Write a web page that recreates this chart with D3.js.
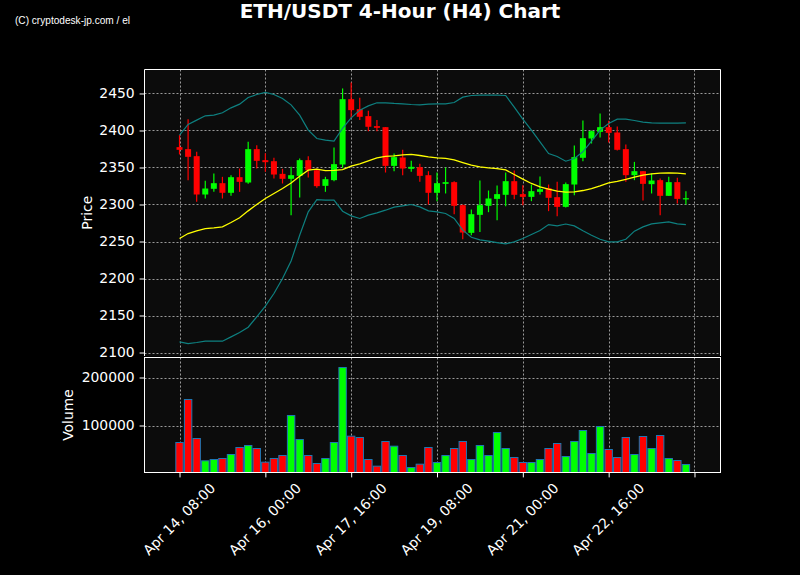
<!DOCTYPE html>
<html><head><meta charset="utf-8">
<script src="https://cdn.jsdelivr.net/npm/d3@7"></script>
<style>body{margin:0;background:#000;} svg{display:block}</style>
</head><body><svg id="c" width="800" height="575"></svg>
<script>
// ---- data (4-hour candles, Apr 14 08:00 onward) ----
const opens = [2377.5,2374.8,2365.3,2313.5,2321.2,2328.8,2315.8,2336.9,2329.7,2374.8,
2359.9,2358.5,2341.4,2334.7,2338.7,2359.9,2346.4,2325.2,2332.9,2354.0,
2442.3,2428.8,2419.4,2405.9,2404.5,2352.2,2363.5,2348.2,2350.4,2339.6,
2315.8,2327.9,2330.2,2299.1,2261.7,2286.0,2298.2,2307.6,2313.1,2331.5,
2314.0,2310.3,2317.1,2322.0,2309.9,2296.8,2327.0,2363.1,2389.2,2398.2,
2404.5,2397.3,2374.8,2339.6,2345.0,2327.5,2332.9,2311.7,2330.2,2307.6];
const highs = [2393.7,2415.3,2371.2,2332.0,2341.9,2337.4,2339.6,2348.6,2384.7,2380.2,
2369.4,2363.1,2348.2,2350.9,2362.2,2365.3,2348.6,2337.4,2377.0,2456.8,
2464.9,2444.1,2426.6,2414.0,2404.5,2368.9,2373.9,2359.0,2355.0,2345.0,
2343.2,2350.0,2331.5,2300.0,2293.2,2332.4,2318.9,2325.7,2343.2,2345.9,
2326.1,2327.0,2337.8,2327.0,2330.6,2329.7,2379.7,2413.5,2400.0,2423.0,
2413.1,2405.4,2381.1,2357.6,2345.0,2341.9,2335.1,2337.4,2336.0,2318.0];
const lows = [2367.6,2332.9,2303.6,2308.1,2317.1,2308.1,2311.7,2317.1,2327.9,2348.6,
2344.1,2335.1,2328.4,2285.6,2309.4,2336.5,2322.5,2317.1,2331.5,2349.5,
2416.2,2414.0,2399.1,2399.1,2343.2,2345.0,2339.6,2344.1,2330.6,2300.0,
2304.5,2314.9,2286.9,2253.1,2258.5,2263.0,2289.6,2278.8,2297.7,2307.2,
2299.1,2304.5,2313.5,2291.0,2284.2,2296.0,2312.6,2358.5,2382.4,2390.5,
2383.8,2373.0,2330.6,2332.9,2305.4,2314.9,2285.6,2311.7,2301.3,2300.0];
const closes = [2373.9,2364.4,2313.5,2321.6,2328.8,2315.8,2336.9,2330.6,2374.8,2359.0,
2357.2,2340.5,2334.7,2339.6,2359.9,2346.4,2324.8,2334.2,2354.5,2442.3,
2427.5,2418.5,2405.0,2403.6,2352.2,2364.0,2348.6,2350.9,2338.7,2315.8,
2328.8,2330.2,2298.2,2262.1,2286.9,2299.1,2308.1,2314.0,2331.5,2313.1,
2310.3,2318.0,2320.7,2309.0,2296.8,2327.5,2364.0,2389.6,2399.1,2404.5,
2396.8,2373.9,2339.6,2345.0,2327.9,2332.4,2311.7,2330.2,2307.6,2308.5];
const volumes = [64600,154200,72900,26400,29200,31300,39600,54200,58300,52100,
23600,31300,37500,120800,70800,37500,20800,31300,64600,220800,
77800,75000,29200,15300,66700,56900,37500,12500,19400,54200,
22900,37500,52100,66700,29200,58300,37500,85400,52100,33300,
22900,22900,29200,52100,62500,35400,66700,89600,41700,97900,
50000,33300,75000,39600,77100,52100,79200,31300,27100,18800];
const bbMid = [2254.0,2260.8,2264.4,2267.5,2268.4,2269.8,2275.7,2282.0,2291.4,2300.0,
2308.1,2314.9,2321.6,2329.0,2338.3,2346.4,2347.7,2345.9,2346.0,2347.0,
2351.8,2355.0,2359.0,2363.1,2364.9,2365.8,2367.1,2367.6,2366.2,2364.4,
2363.1,2362.2,2360.4,2356.7,2353.1,2350.9,2349.5,2348.6,2346.8,2340.5,
2334.2,2328.4,2323.9,2320.7,2318.0,2316.7,2317.1,2318.9,2321.6,2325.2,
2329.3,2331.1,2333.8,2336.9,2339.6,2341.4,2342.3,2342.8,2342.3,2341.4];
const bbUpper = [2393.7,2408.1,2414.0,2419.8,2420.7,2423.9,2430.6,2435.6,2444.6,2448.6,
2451.4,2448.6,2443.2,2434.6,2420.7,2400.5,2389.2,2386.9,2385.6,2403.0,
2417.1,2427.5,2433.3,2437.4,2437.4,2436.5,2436.0,2435.1,2434.7,2435.6,
2436.0,2436.0,2437.8,2445.0,2447.3,2447.7,2447.7,2447.7,2447.3,2431.5,
2415.3,2400.5,2384.7,2368.9,2364.9,2358.5,2362.2,2371.2,2385.6,2400.5,
2409.5,2415.3,2415.3,2413.5,2411.3,2410.4,2409.9,2409.9,2409.9,2410.4];
const bbLower = [2114.4,2112.1,2113.5,2115.3,2115.3,2115.3,2121.1,2127.0,2134.2,2148.2,
2162.6,2179.7,2200.0,2223.6,2258.5,2290.1,2306.7,2305.8,2305.8,2291.0,
2284.7,2281.1,2285.6,2288.7,2292.3,2296.4,2298.2,2300.0,2296.8,2291.4,
2290.1,2287.8,2281.1,2265.3,2255.8,2252.2,2250.4,2248.6,2246.8,2249.5,
2254.0,2259.4,2264.8,2272.9,2271.1,2273.6,2271.1,2264.4,2258.5,2253.1,
2249.5,2249.5,2253.1,2264.0,2269.8,2273.9,2275.2,2276.6,2273.9,2272.9];
const tickIdx = [0,10,20,30,40,50,60];
const tickLabels = ["Apr 14, 08:00","Apr 16, 00:00","Apr 17, 16:00","Apr 19, 08:00","Apr 21, 00:00","Apr 22, 16:00",""];
const priceTicks = [2100,2150,2200,2250,2300,2350,2400,2450];
const volTicks = [100000,200000];
const titleText = "ETH/USDT 4-Hour (H4) Chart";
const watermark = "(C) cryptodesk-jp.com / el";

// ---- layout ----
const W=800,H=575;
const L=144.5,R=720.5,pTop=69.5,pBot=356,vTop=357.5,vBot=472.5;
const UP="#00ff00",DN="#ff0000";
const FONT="DejaVu Sans, sans-serif";
const svg=d3.select("#c");
svg.append("rect").attr("width",W).attr("height",H).attr("fill","#000");

const idx=d3.range(opens.length);
const x=d3.scaleLinear().domain([-4.08,63.03]).range([L,R]);
const y=d3.scaleLinear().domain([2095.3,2482.4]).range([pBot,pTop]);
const yv=d3.scaleLinear().domain([2100,241667]).range([vBot,vTop]);

// panels
svg.append("rect").attr("x",L).attr("y",pTop).attr("width",R-L).attr("height",pBot-pTop).attr("fill","#0c0c0c");
svg.append("rect").attr("x",L).attr("y",vTop).attr("width",R-L).attr("height",vBot-vTop).attr("fill","#0c0c0c");

// grid
const grid=svg.append("g").attr("stroke","#9a9a9a").attr("stroke-width",1).attr("stroke-dasharray","2,2");
grid.selectAll(".hp").data(priceTicks).join("line")
  .attr("x1",L).attr("x2",R).attr("y1",d=>Math.round(y(d))+0.5).attr("y2",d=>Math.round(y(d))+0.5);
grid.selectAll(".hv").data(volTicks).join("line").attr("class","hv")
  .attr("x1",L).attr("x2",R).attr("y1",d=>Math.round(yv(d))+0.5).attr("y2",d=>Math.round(yv(d))+0.5);
grid.selectAll(".vp").data(tickIdx).join("line").attr("class","vp")
  .attr("x1",d=>Math.round(x(d))+0.5).attr("x2",d=>Math.round(x(d))+0.5).attr("y1",pTop).attr("y2",pBot);
grid.selectAll(".vv").data(tickIdx).join("line").attr("class","vv")
  .attr("x1",d=>Math.round(x(d))+0.5).attr("x2",d=>Math.round(x(d))+0.5).attr("y1",vTop).attr("y2",vBot);

// candles
const cg=svg.append("g");
cg.selectAll("line").data(idx).join("line")
  .attr("x1",i=>x(i)).attr("x2",i=>x(i))
  .attr("y1",i=>y(highs[i])).attr("y2",i=>y(lows[i]))
  .attr("stroke",i=>closes[i]>=opens[i]?UP:DN).attr("stroke-width",1.2);
const bw=6;
cg.selectAll("rect").data(idx).join("rect")
  .attr("x",i=>x(i)-bw/2).attr("width",bw)
  .attr("y",i=>y(Math.max(opens[i],closes[i])))
  .attr("height",i=>Math.max(1.2,Math.abs(y(opens[i])-y(closes[i]))))
  .attr("fill",i=>closes[i]>=opens[i]?UP:DN);

// bands and mid
const line=arr=>d3.line().x((d,i)=>x(i)).y(d=>y(d))(arr);
svg.append("path").attr("d",line(bbUpper)).attr("fill","none").attr("stroke","#0e8080").attr("stroke-width",1.2);
svg.append("path").attr("d",line(bbLower)).attr("fill","none").attr("stroke","#0e8080").attr("stroke-width",1.2);
svg.append("path").attr("d",line(bbMid)).attr("fill","none").attr("stroke","#ffff00").attr("stroke-width",1.3);

// volume bars
const vw=7.4;
svg.append("g").selectAll("rect").data(idx).join("rect")
  .attr("x",i=>x(i)-vw/2).attr("width",vw)
  .attr("y",i=>yv(volumes[i])).attr("height",i=>vBot-yv(volumes[i]))
  .attr("fill",i=>closes[i]>=opens[i]?UP:DN)
  .attr("stroke","#1f77b4").attr("stroke-width",1);

// spines
const sp=svg.append("g").attr("stroke","#fff").attr("stroke-width",1).attr("fill","none");
sp.append("path").attr("d",`M${L},${pBot}V${pTop}H${R}V${pBot}`);
sp.append("rect").attr("x",L).attr("y",vTop).attr("width",R-L).attr("height",vBot-vTop);

// axes
const fs=13.9;
function styleAxis(g){
  g.select(".domain").remove();
  g.selectAll(".tick line").attr("stroke","#fff");
  g.selectAll(".tick text").attr("fill","#fff").style("font-family",FONT).style("font-size",fs+"px");
}
svg.append("g").attr("transform",`translate(${L},0)`)
  .call(d3.axisLeft(y).tickValues(priceTicks).tickSize(4.9).tickPadding(4.9).tickFormat(d3.format("d")))
  .call(styleAxis);
svg.append("g").attr("transform",`translate(${L},0)`)
  .call(d3.axisLeft(yv).tickValues(volTicks).tickSize(4.9).tickPadding(4.9).tickFormat(d3.format("d")))
  .call(styleAxis);
const xa=svg.append("g").attr("transform",`translate(0,${vBot})`)
  .call(d3.axisBottom(x).tickValues(tickIdx).tickSize(4.9).tickFormat((d,i)=>tickLabels[i]))
  .call(styleAxis);
xa.selectAll(".tick text")
  .attr("text-anchor","middle").attr("dy",null).attr("y",null)
  .attr("dominant-baseline","central")
  .attr("transform","translate(-1,46.5) rotate(-45)");

// labels
svg.append("text").attr("transform",`translate(87,${(pTop+pBot)/2}) rotate(-90)`)
  .attr("text-anchor","middle").attr("dominant-baseline","central")
  .attr("fill","#fff").style("font-family",FONT).style("font-size",fs+"px").text("Price");
svg.append("text").attr("transform",`translate(68,${(vTop+vBot)/2}) rotate(-90)`)
  .attr("text-anchor","middle").attr("dominant-baseline","central")
  .attr("fill","#fff").style("font-family",FONT).style("font-size",fs+"px").text("Volume");
svg.append("text").attr("x",400).attr("y",18).attr("text-anchor","middle")
  .attr("fill","#fff").style("font-family",FONT).style("font-weight","bold").style("font-size","20px").text(titleText);
svg.append("text").attr("x",15).attr("y",24).attr("textLength",115).attr("lengthAdjust","spacingAndGlyphs")
  .attr("fill","#fff").style("font-family","Liberation Sans, sans-serif").style("font-size","11px").text(watermark);
</script>
</body></html>
